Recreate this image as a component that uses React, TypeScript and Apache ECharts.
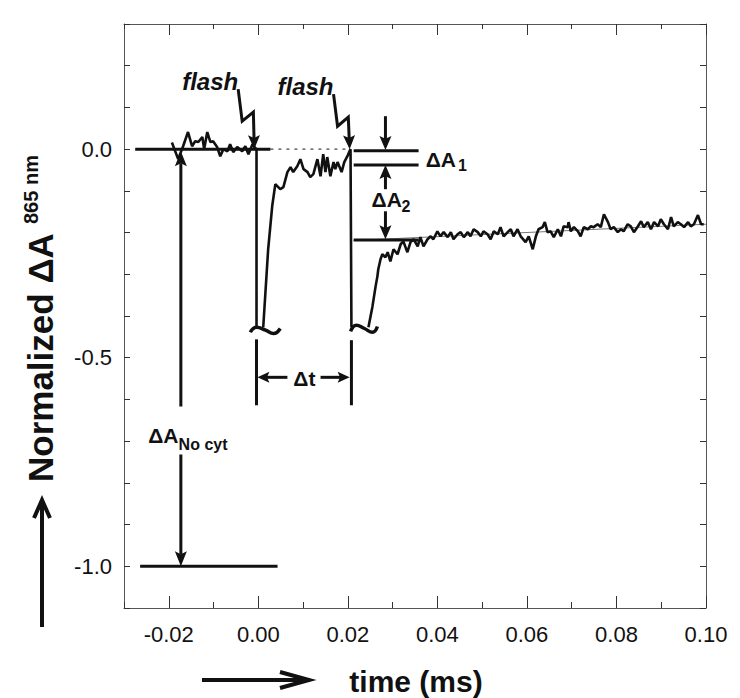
import React, { useEffect, useRef } from "react";
import * as echarts from "echarts";

// ---- axes ----
const X_MIN = -0.03;
const X_MAX = 0.1;
const Y_MIN = -1.1;
const Y_MAX = 0.3;
const X_MAJOR_TICKS = [-0.02, 0, 0.02, 0.04, 0.06, 0.08, 0.1];
const X_TITLE = "time (ms)";
const Y_TITLE = "Normalized \u0394A";
const Y_TITLE_SUP = "865 nm";

// ---- trace: [time (ms), normalized ΔA] ----
const TRACE_BEFORE_FLASH = [
  [-0.0193, 0.016], [-0.0179, -0.024], [-0.0168, 0.007], [-0.0157, 0.041], [-0.0148, 0.007],
  [-0.0141, 0.019], [-0.0134, 0.017], [-0.0125, 0.029], [-0.0121, 0.0], [-0.0114, 0.041],
  [-0.0107, 0.017], [-0.0101, 0.019], [-0.0092, 0.005], [-0.0085, -0.017], [-0.0078, 0.0],
  [-0.0069, -0.005], [-0.0063, 0.012], [-0.0056, -0.007], [-0.0047, 0.005], [-0.0036, -0.005],
  [-0.0029, 0.007], [-0.0022, -0.012], [-0.0013, 0.012], [-0.0009, 0.005], [-0.0004, 0.0],
  [-0.0004, -0.427],
];
const TRACE_BETWEEN_FLASHES = [
  [0.0011, -0.427], [0.0022, -0.24], [0.0031, -0.137], [0.0038, -0.084], [0.0049, -0.096],
  [0.0056, -0.091], [0.0065, -0.055], [0.0072, -0.043], [0.0078, -0.055], [0.0087, -0.041],
  [0.0094, -0.024], [0.0101, -0.048], [0.011, -0.055], [0.0116, -0.067], [0.0123, -0.06],
  [0.0132, -0.024], [0.0139, -0.065], [0.0145, -0.012], [0.015, -0.055], [0.0154, -0.019],
  [0.0161, -0.065], [0.0168, -0.031], [0.0172, -0.048], [0.0177, -0.031], [0.0186, -0.055],
  [0.0192, -0.031], [0.0199, -0.017], [0.0201, -0.012], [0.0206, 0.0], [0.0208, -0.427],
];
const TRACE_AFTER_FLASH = [
  [0.0246, -0.427], [0.0255, -0.377], [0.0262, -0.329], [0.0266, -0.305], [0.0268, -0.288],
  [0.0273, -0.264], [0.0277, -0.252], [0.0284, -0.259], [0.0289, -0.247], [0.0295, -0.269],
  [0.0302, -0.24], [0.0311, -0.252], [0.0318, -0.228], [0.0324, -0.221], [0.0333, -0.247],
  [0.034, -0.223], [0.0347, -0.216], [0.0356, -0.233], [0.0362, -0.211], [0.0369, -0.233],
  [0.0378, -0.216], [0.0385, -0.209], [0.0391, -0.216], [0.04, -0.197], [0.0407, -0.209],
  [0.0414, -0.199], [0.0423, -0.211], [0.043, -0.199], [0.0436, -0.216], [0.0445, -0.204],
  [0.0452, -0.199], [0.0459, -0.211], [0.0468, -0.199], [0.0474, -0.209], [0.0481, -0.192],
  [0.049, -0.199], [0.0497, -0.209], [0.0503, -0.197], [0.0512, -0.204], [0.0519, -0.216],
  [0.0526, -0.197], [0.0535, -0.204], [0.0541, -0.187], [0.0548, -0.209], [0.0557, -0.199],
  [0.0564, -0.192], [0.057, -0.209], [0.0579, -0.192], [0.0586, -0.209], [0.0597, -0.223],
  [0.0604, -0.209], [0.0613, -0.24], [0.062, -0.209], [0.0626, -0.192], [0.0635, -0.187],
  [0.064, -0.175], [0.0646, -0.199], [0.0653, -0.197], [0.066, -0.211], [0.0669, -0.192],
  [0.0676, -0.209], [0.0682, -0.185], [0.0691, -0.187], [0.0693, -0.175], [0.0698, -0.197],
  [0.0705, -0.187], [0.0714, -0.197], [0.072, -0.209], [0.0727, -0.187], [0.0736, -0.192],
  [0.0743, -0.185], [0.0749, -0.187], [0.0758, -0.18], [0.0765, -0.187], [0.0772, -0.156],
  [0.0781, -0.175], [0.0787, -0.192], [0.0794, -0.187], [0.0803, -0.199], [0.081, -0.192],
  [0.0816, -0.197], [0.0825, -0.18], [0.0832, -0.185], [0.0839, -0.199], [0.0848, -0.185],
  [0.0855, -0.173], [0.0861, -0.187], [0.087, -0.175], [0.0877, -0.192], [0.0884, -0.175],
  [0.0893, -0.185], [0.0899, -0.168], [0.0906, -0.18], [0.0915, -0.192], [0.0922, -0.163],
  [0.0928, -0.185], [0.0937, -0.175], [0.0944, -0.18], [0.0951, -0.187], [0.096, -0.175],
  [0.0966, -0.185], [0.0973, -0.18], [0.0982, -0.158], [0.0989, -0.18], [0.0995, -0.18],
];
const FIT_LINE = [[0.0213, -0.219], [0.1, -0.18]];

// ---- annotation lines (data coordinates) ----
const BASELINE = [[-0.0275, 0], [0.0027, 0]];
const BASELINE_DOTTED = [[0.0027, 0], [0.0206, 0]];
const FULL_LEVEL = [[-0.0264, -1.0], [0.0043, -1.0]];
const DA1_UPPER = [[0.0213, -0.004], [0.0358, -0.004]];
const DA1_LOWER = [[0.0213, -0.038], [0.0358, -0.038]];
const DA2_LEVEL = [[0.0213, -0.218], [0.0358, -0.218]];
const DT_LEFT = [[-0.0004, -0.456], [-0.0004, -0.614]];
const DT_RIGHT = [[0.0208, -0.458], [0.0208, -0.614]];
const BREAK_1 = [[-0.0018, -0.439], [-0.0004, -0.427], [0.0016, -0.434], [0.0034, -0.442], [0.0049, -0.43]];
const BREAK_2 = [[0.0206, -0.437], [0.0219, -0.422], [0.0237, -0.43], [0.0255, -0.439], [0.0266, -0.425]];

// zig-zag flash pointers (last point = arrow tip)
const FLASH_1_POINTER = [[-0.0045, 0.144], [-0.0036, 0.067], [-0.0011, 0.089], [-0.0009, 0.0]];
const FLASH_2_POINTER = [[0.0168, 0.132], [0.0177, 0.055], [0.0201, 0.077], [0.0204, 0.0]];
// arrows: [from, tip]
const DA1_DOWN = [[0.0284, 0.079], [0.0284, -0.002]];
const DA1_UP = [[0.0284, -0.096], [0.0284, -0.038]];
const DA2_DOWN = [[0.0284, -0.149], [0.0284, -0.216]];
const NOCYT_UP = [[-0.0173, -0.617], [-0.0173, -0.005]];
const NOCYT_DOWN = [[-0.0173, -0.732], [-0.0173, -1.0]];
const DT_ARROW_L = [[0.0065, -0.547], [-0.0002, -0.547]];
const DT_ARROW_R = [[0.0139, -0.547], [0.0204, -0.547]];

const INK = "#111";
const FONT = "'Liberation Sans', Arial, Helvetica, sans-serif";

const lineSeries = (data: number[][], width: number, color = INK, type: any = "solid", smooth = false) => ({
  type: "line",
  data,
  symbol: "none",
  showSymbol: false,
  smooth,
  clip: false,
  silent: true,
  lineStyle: { width, color, type, cap: "butt" },
  xAxisIndex: 0,
  yAxisIndex: 0,
  z: 3,
});

const axisLineStyle = { color: "#555", width: 1 };
const tickStyle = { color: "#333", width: 1 };

function fmtY(v: number) {
  const r = Math.round(v * 10) / 10;
  if (Math.abs(r * 2 - Math.round(r * 2)) > 1e-6) return "";
  return (Math.abs(r) < 1e-9 ? 0 : r).toFixed(1);
}

export default function App() {
  const ref = useRef<HTMLDivElement>(null);
  useEffect(() => {
    const chart = echarts.init(ref.current!, null, { renderer: "svg" });
    const option: any = {
      animation: false,
      backgroundColor: "#fff",
      textStyle: { fontFamily: FONT },
      grid: { left: 124, right: 34, top: 24, bottom: 90 },
      xAxis: [
        {
          type: "value", position: "bottom", min: X_MIN, max: X_MAX,
          axisLine: { show: true, onZero: false, lineStyle: axisLineStyle },
          axisTick: { show: true, inside: true, length: 12, customValues: X_MAJOR_TICKS, lineStyle: tickStyle },
          axisLabel: { customValues: X_MAJOR_TICKS, formatter: (v: number) => v.toFixed(2), fontSize: 22, color: INK, margin: 15, fontFamily: FONT },
          splitLine: { show: false },
        },
        {
          type: "value", position: "bottom", min: X_MIN, max: X_MAX, interval: 0.01,
          axisLine: { show: false, onZero: false },
          axisTick: { show: true, inside: true, length: 6, lineStyle: tickStyle },
          axisLabel: { show: false }, splitLine: { show: false },
        },
        {
          type: "value", position: "top", min: X_MIN, max: X_MAX,
          axisLine: { show: true, onZero: false, lineStyle: axisLineStyle },
          axisTick: { show: true, inside: true, length: 11, customValues: X_MAJOR_TICKS, lineStyle: tickStyle },
          axisLabel: { show: false }, splitLine: { show: false },
        },
        {
          type: "value", position: "top", min: X_MIN, max: X_MAX, interval: 0.01,
          axisLine: { show: false, onZero: false },
          axisTick: { show: true, inside: true, length: 5, lineStyle: tickStyle },
          axisLabel: { show: false }, splitLine: { show: false },
        },
      ],
      yAxis: [
        {
          type: "value", position: "left", min: Y_MIN, max: Y_MAX, interval: 0.1,
          axisLine: { show: true, onZero: false, lineStyle: axisLineStyle },
          axisTick: { show: true, inside: true, length: 6, lineStyle: tickStyle },
          axisLabel: { formatter: fmtY, fontSize: 22, color: INK, margin: 12, fontFamily: FONT, showMinLabel: true, showMaxLabel: true },
          splitLine: { show: false },
        },
        {
          type: "value", position: "right", min: Y_MIN, max: Y_MAX, interval: 0.1,
          axisLine: { show: true, onZero: false, lineStyle: axisLineStyle },
          axisTick: { show: true, inside: true, length: 6, lineStyle: tickStyle },
          axisLabel: { show: false }, splitLine: { show: false },
        },
      ],
      series: [
        lineSeries(FIT_LINE, 1, "#777"),
        lineSeries(BASELINE_DOTTED, 1.3, "#444", [3, 5]),
        lineSeries(TRACE_BEFORE_FLASH, 2.6),
        lineSeries(TRACE_BETWEEN_FLASHES, 2.6),
        lineSeries(TRACE_AFTER_FLASH, 2.6),
        lineSeries(BASELINE, 3),
        lineSeries(FULL_LEVEL, 3),
        lineSeries(DA1_UPPER, 3),
        lineSeries(DA1_LOWER, 3),
        lineSeries(DA2_LEVEL, 3),
        lineSeries(DT_LEFT, 3),
        lineSeries(DT_RIGHT, 3),
        lineSeries(BREAK_1, 3.5, INK, "solid", true),
        lineSeries(BREAK_2, 3.5, INK, "solid", true),
      ],
    };
    chart.setOption(option);

    const P = (d: number[]) => chart.convertToPixel({ xAxisIndex: 0, yAxisIndex: 0 }, d) as number[];

    const head = (from: number[], tip: number[], len: number, width: number) => {
      const dx = tip[0] - from[0], dy = tip[1] - from[1];
      const L = Math.hypot(dx, dy) || 1;
      const ux = dx / L, uy = dy / L, nx = -uy, ny = ux;
      const bx = tip[0] - ux * len, by = tip[1] - uy * len;
      const hw = width / 2;
      return {
        base: [bx + ux * 3, by + uy * 3],
        el: {
          type: "polygon", silent: true, z: 10,
          shape: { points: [[tip[0], tip[1]], [bx + nx * hw, by + ny * hw], [tip[0] - ux * len * 0.8, tip[1] - uy * len * 0.8], [bx - nx * hw, by - ny * hw]] },
          style: { fill: INK },
        },
      };
    };
    const arrow = (seg: number[][], len = 14, width = 12, lw = 3) => {
      const a = P(seg[0]), b = P(seg[1]);
      const h = head(a, b, len, width);
      return [
        { type: "line", silent: true, z: 10, shape: { x1: a[0], y1: a[1], x2: h.base[0], y2: h.base[1] }, style: { stroke: INK, lineWidth: lw } },
        h.el,
      ];
    };
    const zigzag = (pts: number[][]) => {
      const px = pts.map(P);
      const n = px.length;
      const h = head(px[n - 2], px[n - 1], 14, 12);
      return [
        { type: "polyline", silent: true, z: 10, shape: { points: [...px.slice(0, n - 1), h.base] }, style: { stroke: INK, lineWidth: 3, fill: null, lineJoin: "miter" } },
        h.el,
      ];
    };
    const chevronArrow = (a: number[], b: number[], len: number, hw: number, lw: number) => {
      const dx = b[0] - a[0], dy = b[1] - a[1];
      const L = Math.hypot(dx, dy);
      const ux = dx / L, uy = dy / L, nx = -uy, ny = ux;
      const bx = b[0] - ux * len, by = b[1] - uy * len;
      return [
        { type: "line", silent: true, shape: { x1: a[0], y1: a[1], x2: b[0] - ux * 2, y2: b[1] - uy * 2 }, style: { stroke: INK, lineWidth: lw } },
        { type: "polyline", silent: true, shape: { points: [[bx + nx * hw, by + ny * hw], [b[0], b[1]], [bx - nx * hw, by - ny * hw]] }, style: { stroke: INK, lineWidth: lw, fill: null, lineJoin: "miter" } },
      ];
    };
    const text = (at: number[], t: string, size: number, opts: any = {}) => ({
      type: "text", silent: true, z: 12, x: at[0], y: at[1],
      style: {
        text: t, fontSize: size, fontWeight: "bold", fontFamily: FONT, fill: INK,
        align: opts.align || "left", verticalAlign: "middle", fontStyle: opts.italic ? "italic" : "normal",
      },
    });

    const elements: any[] = [
      ...zigzag(FLASH_1_POINTER),
      ...zigzag(FLASH_2_POINTER),
      ...arrow(DA1_DOWN),
      ...arrow(DA1_UP),
      ...arrow(DA2_DOWN),
      ...arrow(NOCYT_UP, 15, 12),
      ...arrow(NOCYT_DOWN, 15, 12),
      ...arrow(DT_ARROW_L, 12, 11),
      ...arrow(DT_ARROW_R, 12, 11),
      text(P([-0.0045, 0.163]), "flash", 24, { align: "right", italic: true }),
      text(P([0.0168, 0.149]), "flash", 24, { align: "right", italic: true }),
      text(P([0.0374, -0.024]), "\u0394A", 21),
      text(P([0.0446, -0.040]), "1", 16),
      text(P([0.0253, -0.12]), "\u0394A", 21),
      text(P([0.0320, -0.137]), "2", 16),
      text(P([0.0103, -0.55]), "\u0394t", 21, { align: "center" }),
      text(P([-0.0246, -0.686]), "\u0394A", 21),
      text(P([-0.0178, -0.708]), "No cyt", 16),
      // axis titles
      { type: "text", silent: true, x: 416, y: 681, style: { text: X_TITLE, fontSize: 30, fontWeight: "bold", fontFamily: FONT, fill: INK, align: "center", verticalAlign: "middle" } },
      ...chevronArrow([202, 680], [309, 680], 29, 8, 4),
      { type: "text", silent: true, x: 40, y: 482, rotation: Math.PI / 2, style: { text: Y_TITLE, fontSize: 35, fontWeight: "bold", fontFamily: FONT, fill: INK, align: "left", verticalAlign: "middle" } },
      { type: "text", silent: true, x: 31, y: 224, rotation: Math.PI / 2, style: { text: Y_TITLE_SUP, fontSize: 20, fontWeight: "bold", fontFamily: FONT, fill: INK, align: "left", verticalAlign: "middle" } },
      ...chevronArrow([42, 627], [42, 500], 18, 8, 4),
    ];
    chart.setOption({ graphic: elements });
    return () => chart.dispose();
  }, []);
  return <div ref={ref} style={{ position: "fixed", left: 0, top: 0, width: 740, height: 698, background: "#fff" }} />;
}
